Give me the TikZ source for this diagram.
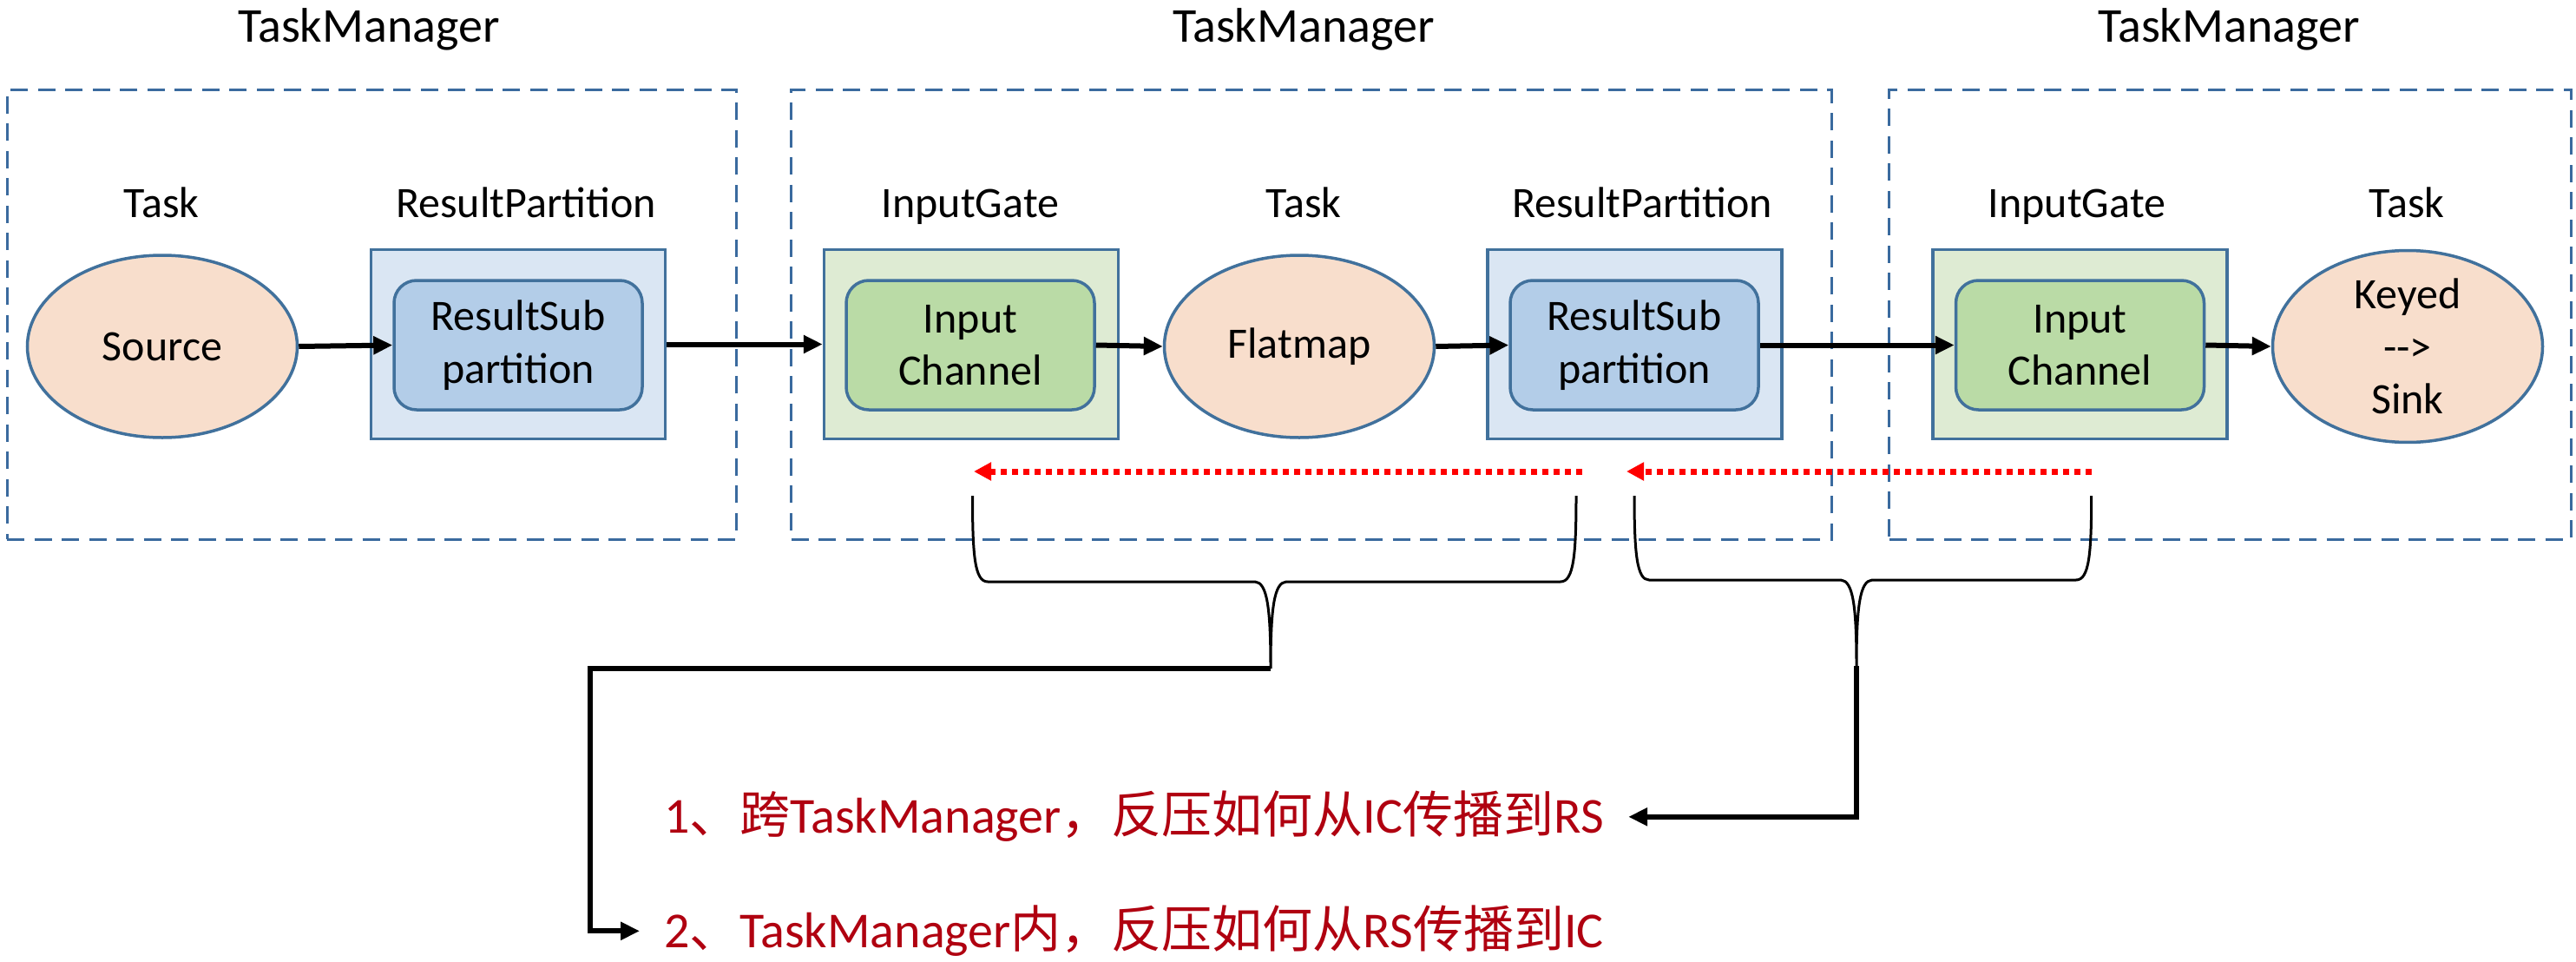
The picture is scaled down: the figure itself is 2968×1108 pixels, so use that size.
\documentclass[tikz,border=0pt]{standalone}
\usepackage{fontspec}
\setmainfont{Carlito}
\newfontfamily\cjk{Noto Sans CJK SC}
\usetikzlibrary{arrows.meta,shapes.geometric}
\definecolor{tmblue}{HTML}{3A6A9E}
\definecolor{nodeblue}{HTML}{41719C}
\definecolor{peach}{HTML}{F8DECC}
\definecolor{rpfill}{HTML}{DAE6F3}
\definecolor{rspfill}{HTML}{B3CDE8}
\definecolor{igfill}{HTML}{DEEBD3}
\definecolor{icfill}{HTML}{BADBA6}
\definecolor{bpred}{HTML}{FF0000}
\definecolor{notered}{HTML}{B00010}
\begin{document}
\begin{tikzpicture}[x=0.5pt,y=-0.5pt,
  tmbox/.style={draw=tmblue, line width=1.5pt, dash pattern=on 10pt off 5.75pt, minimum height=258.9pt, inner sep=0pt},
  title/.style={font=\fontsize{28}{34}\selectfont, anchor=base, inner sep=0pt},
  lbl/.style={font=\fontsize{25}{30}\selectfont, anchor=base, inner sep=0pt},
  outerrp/.style={draw=nodeblue, line width=1.75pt, fill=rpfill, minimum width=169.5pt, minimum height=109pt, inner sep=0pt},
  outerig/.style={outerrp, fill=igfill},
  innerrsp/.style={draw=nodeblue, line width=1.75pt, fill=rspfill, rounded corners=13pt, minimum width=143pt, minimum height=74.5pt, inner sep=0pt, align=center, font=\fontsize{25}{30.3}\selectfont},
  inneric/.style={innerrsp, fill=icfill},
  taskell/.style={ellipse, draw=nodeblue, line width=1.75pt, fill=peach, minimum width=155.5pt, minimum height=105pt, inner sep=0pt, align=center, font=\fontsize{25}{30.3}\selectfont},
  flow/.style={line width=3pt, -{Triangle[length=11pt,width=10pt]}},
  bp/.style={draw=bpred, line width=3.5pt, dash pattern=on 3.75pt off 2.75pt, -{Triangle[length=10pt,width=10pt]}},
  brace/.style={line width=1.5pt},
  fb/.style={line width=3pt, -{Triangle[length=11pt,width=10pt]}},
  note/.style={text=notered, font=\fontsize{29}{35}\selectfont, text height=26.1pt, text depth=7.4pt, inner xsep=14pt, inner ysep=0pt, anchor=base west}
]
\useasboundingbox (0,0) rectangle (2968,1108);
\fill[white] (0,0) rectangle (2968,1108);

% TaskManager frames
\node[tmbox, minimum width=420pt] (tm1) at (428,362.5) {};
\node[tmbox, minimum width=599.25pt] (tm2) at (1510.75,362.5) {};
\node[tmbox, minimum width=392.75pt] (tm3) at (2569.25,362.5) {};

\node[title] (tt1) at (425,48) {TaskManager};
\node[title] (tt2) at (1502,48) {TaskManager};
\node[title] (tt3) at (2568,48) {TaskManager};

% labels
\node[lbl] (l1) at (186,250) {Task};
\node[lbl] (l2) at (606,250) {ResultPartition};
\node[lbl] (l3) at (1118,250) {InputGate};
\node[lbl] (l4) at (1502,250) {Task};
\node[lbl] (l5) at (1892,250) {ResultPartition};
\node[lbl] (l6) at (2393,250) {InputGate};
\node[lbl] (l7) at (2773,250) {Task};

% nodes
\node[taskell] (src) at (187,399) {Source};
\node[outerrp] (rp1) at (597,396.5) {};
\node[innerrsp] (rsp1) at (597,397.5) {ResultSub\\partition};
\node[outerig] (ig1) at (1119,396.5) {};
\node[inneric] (ic1) at (1118,397.5) {Input\\Channel};
\node[taskell] (fm) at (1497,399) {Flatmap};
\node[outerrp] (rp2) at (1883.4,396.5) {};
\node[innerrsp] (rsp2) at (1883,397.5) {ResultSub\\partition};
\node[outerig] (ig2) at (2396.7,396.5) {};
\node[inneric] (ic2) at (2396.5,397.5) {Input\\Channel};
\node[taskell] (snk) at (2774,399) {Keyed\\-{}-{}>\\Sink};

% data flow
\draw[flow] (src.east) -- (rsp1.west);
\draw[flow] (rp1.east) -- (ig1.west);
\draw[flow] (ic1.east) -- (fm.west);
\draw[flow] (fm.east) -- (rsp2.west);
\draw[flow] (rsp2.east) -- (ic2.west);
\draw[flow] (ic2.east) -- (snk.west);

% back pressure
\coordinate (r1s) at (1823,543);
\coordinate (r1e) at (1122,543);
\coordinate (r2s) at (2410,543);
\coordinate (r2e) at (1874,543);
\draw[bp] (r1s) -- (r1e);
\draw[bp] (r2s) -- (r2e);

% braces
\coordinate (b1tip) at (1464,770);
\coordinate (b2tip) at (2139,767);
\draw[brace] (1120.5,571) .. controls (1120.5,640) and (1123,670) .. (1138,670) -- (1446,670)
  .. controls (1460,671) and (1464,700) .. (1464,770)
  .. controls (1464,700) and (1468,671) .. (1482,670) -- (1798,670)
  .. controls (1813,670) and (1816,640) .. (1816,571);
\draw[brace] (1883,571) .. controls (1883,638) and (1886,668) .. (1900,668) -- (2121,668)
  .. controls (2135,669) and (2139,698) .. (2139,767)
  .. controls (2139,698) and (2143,669) .. (2157,668) -- (2392,668)
  .. controls (2407,668) and (2409.7,638) .. (2409.7,571);

% notes
\node[note] (n1) at (737,959.5) {1{\cjk 、跨}TaskManager{\cjk ，反压如何从}IC{\cjk 传播到}RS};
\node[note] (n2) at (737,1091) {2{\cjk 、}TaskManager{\cjk 内，反压如何从}RS{\cjk 传播到}IC};

\coordinate (c1) at (680,770);
\draw[fb] (b1tip) -- (c1) |- (n2.west);
\draw[fb] (b2tip) |- (n1.east);
\end{tikzpicture}
\end{document}
